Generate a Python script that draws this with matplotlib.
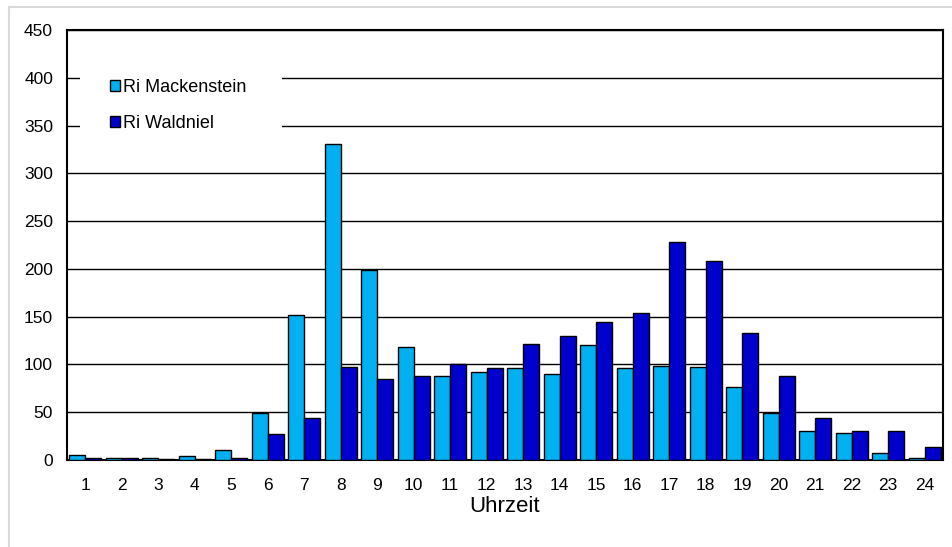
import matplotlib.pyplot as plt
import numpy as np
from matplotlib.lines import Line2D
from matplotlib.patches import Patch, Rectangle

plt.rcParams["font.family"] = ["Liberation Sans", "DejaVu Sans"]

# Daten: Verkehrsmengen je Stunde
stunden = [str(h) for h in range(1, 25)]
ri_mackenstein = [5.5, 2.5, 2.5, 4, 10.5, 49, 152, 331, 199, 118, 88, 92,
                  96, 90, 120, 96, 98, 97, 76, 49, 30, 28, 7.5, 2.5]
ri_waldniel = [2.5, 2.5, 1, 1, 2.5, 27, 44, 97, 85, 88, 100, 96,
               121, 130, 144, 154, 228, 208, 133, 88, 44, 30, 30, 14]
y_ticks = list(range(0, 451, 50))

FARBE_MACK = "#00B0F0"
FARBE_WALD = "#0000CC"

fig = plt.figure(figsize=(9.53, 5.47), dpi=100)
ax = fig.add_axes([67 / 953, 1 - 460 / 547, 876 / 953, 430 / 547])

# grauer Rahmen um das Diagramm
fig.add_artist(Line2D([9 / 953, 9 / 953], [0, 1 - 7 / 547],
                      color="#d9d9d9", lw=1.5, transform=fig.transFigure))
fig.add_artist(Line2D([9 / 953, 1], [1 - 7 / 547, 1 - 7 / 547],
                      color="#d9d9d9", lw=1.5, transform=fig.transFigure))

x = np.arange(len(stunden))
breite = 0.44
ax.bar(x - breite / 2, ri_mackenstein, breite, color=FARBE_MACK,
       edgecolor="black", linewidth=1, zorder=3)
ax.bar(x + breite / 2, ri_waldniel, breite, color=FARBE_WALD,
       edgecolor="black", linewidth=1, zorder=3)

ax.set_xlim(-0.5, len(stunden) - 0.5)
ax.set_ylim(0, 450)
ax.set_yticks(y_ticks)
ax.set_xticks(x)
ax.set_xticklabels(stunden)
ax.tick_params(axis="y", length=0, labelsize=12.5, pad=10)
ax.tick_params(axis="x", length=0, labelsize=12.5, pad=13)
ax.yaxis.grid(True, color="black", linewidth=1, zorder=0)
for s in ax.spines.values():
    s.set_linewidth(1.5)
    s.set_color("black")

ax.set_xlabel("Uhrzeit", fontsize=16, labelpad=2)

# weisser Hintergrund der Legende
ax.add_patch(Rectangle((13 / 876, 320 / 430), 202 / 876, 78 / 430,
                       transform=ax.transAxes, facecolor="white",
                       edgecolor="none", zorder=2))
handles = [Patch(facecolor=FARBE_MACK, edgecolor="black", label="Ri Mackenstein"),
           Patch(facecolor=FARBE_WALD, edgecolor="black", label="Ri Waldniel")]
leg = ax.legend(handles=handles, loc="upper left",
                bbox_to_anchor=(34 / 876, 390 / 430), frameon=False,
                fontsize=13, handlelength=0.55, handleheight=0.55,
                handletextpad=0.15, labelspacing=1.05, borderpad=0)
leg.set_zorder(5)

fig.savefig("out.png", dpi=100)
